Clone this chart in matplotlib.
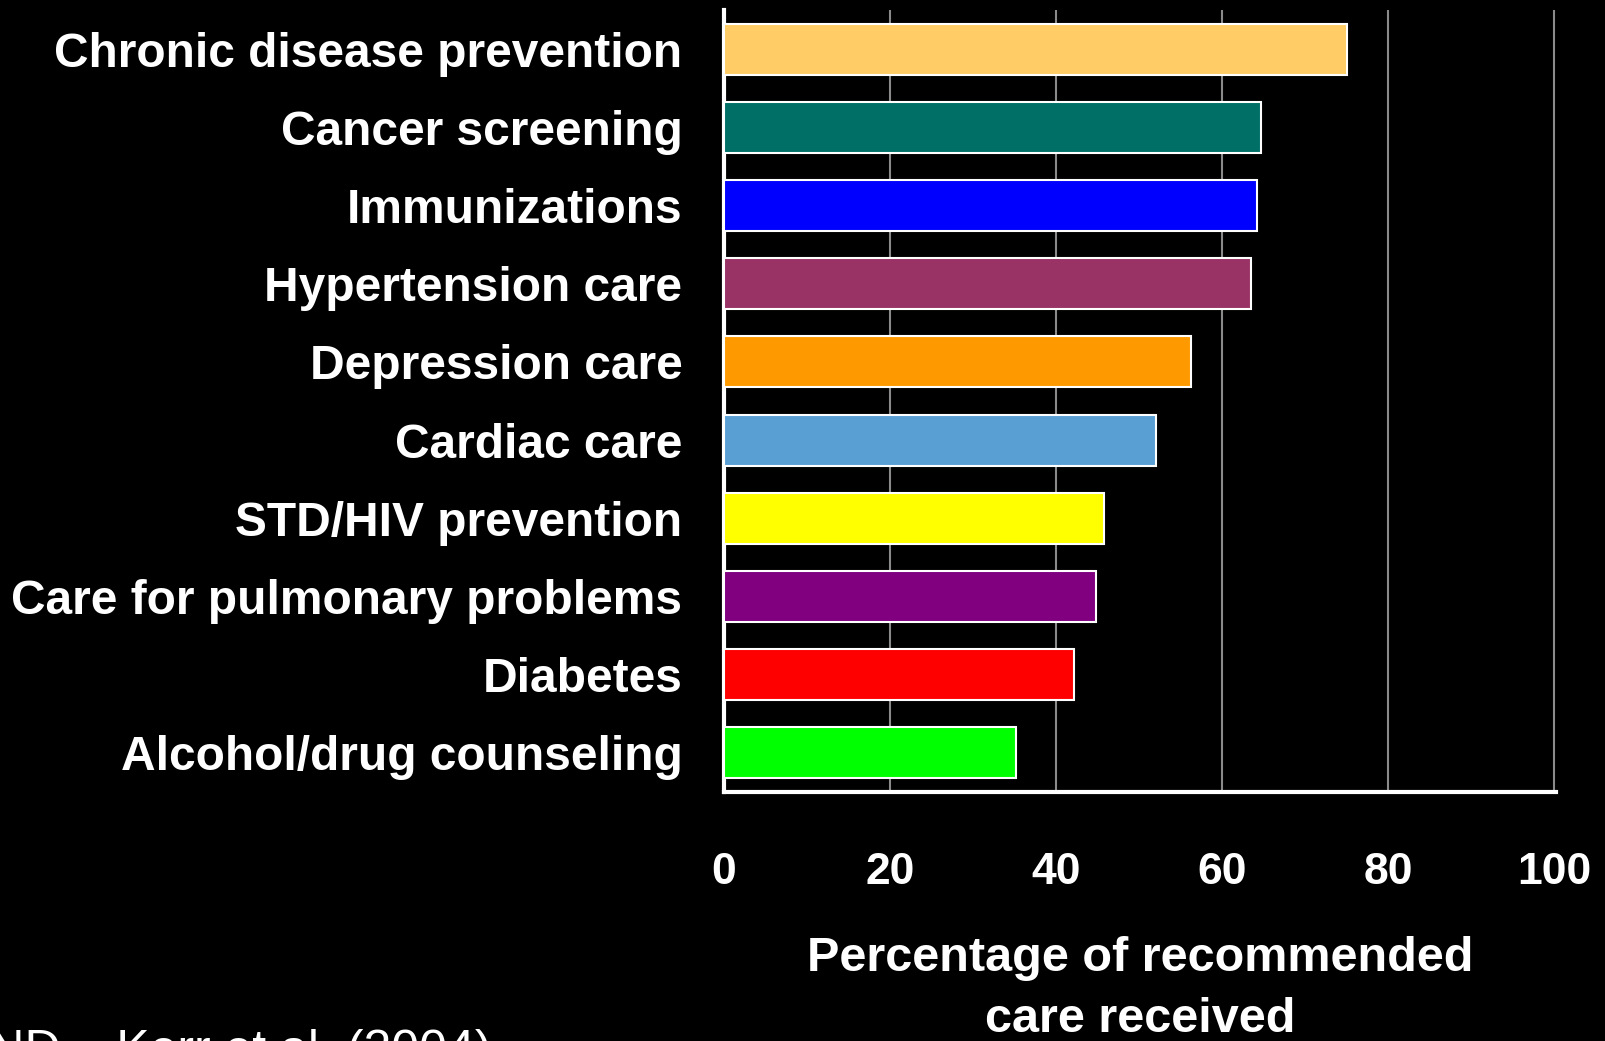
import matplotlib.pyplot as plt
import numpy as np

plt.rcParams['font.family'] = ['Liberation Sans', 'DejaVu Sans']

categories = ['Chronic disease prevention', 'Cancer screening', 'Immunizations',
              'Hypertension care', 'Depression care', 'Cardiac care',
              'STD/HIV prevention', 'Care for pulmonary problems', 'Diabetes',
              'Alcohol/drug counseling']
values = [75, 64.7, 64.2, 63.5, 56.2, 52, 45.8, 44.8, 42.2, 35.2]
colors = ['#FFCC66', '#006F66', '#0000FF', '#993366', '#FF9900',
          '#5A9FD4', '#FFFF00', '#800080', '#FF0000', '#00FF00']
xticks = [0, 20, 40, 60, 80, 100]

fig = plt.figure(figsize=(16.06, 10.41), dpi=100, facecolor='black')
ax = fig.add_axes([0.4508, 0.2392, 0.5181, 0.7512])
ax.set_facecolor('black')

y = np.arange(len(categories))
ax.barh(y, values, height=0.65, color=colors, edgecolor='white', linewidth=1.5, zorder=3)

ax.set_ylim(len(categories) - 0.5, -0.5)
ax.set_xlim(0, 100.2)
ax.set_xticks(xticks)
ax.set_yticks(y)
ax.set_yticklabels(categories, fontsize=34.5, fontweight='bold', color='white')
ax.set_xticklabels([str(t) for t in xticks], fontsize=32, fontweight='bold', color='white')
ax.tick_params(axis='y', length=0, pad=30)
ax.tick_params(axis='x', length=0, pad=43)

ax.grid(axis='x', color='#8a8a8a', linewidth=1.5, zorder=0)
for s in ['top', 'right']:
    ax.spines[s].set_visible(False)
for s in ['left', 'bottom']:
    ax.spines[s].set_color('white')
    ax.spines[s].set_linewidth(3)

ax.set_xlabel('Percentage of recommended\ncare received', fontsize=35,
              fontweight='bold', color='white', labelpad=31, linespacing=1.45)

# source note, partly cut off at the bottom edge as in the original slide
fig.text(0.306, 0.012, 'RAND \u2013 Kerr et al. (2004)', fontsize=36, color='white',
         ha='right', va='top')

fig.savefig('out.png', dpi=100, facecolor='black')
